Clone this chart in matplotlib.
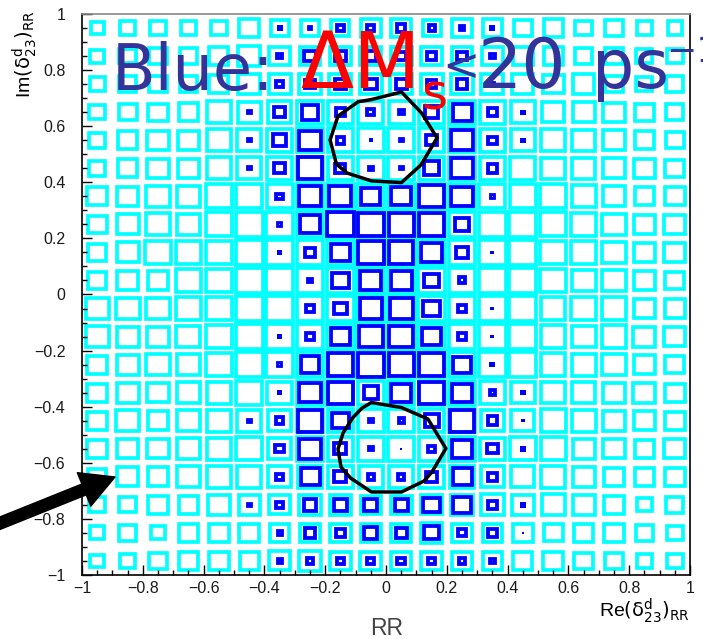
import matplotlib
matplotlib.use("Agg")
import matplotlib.pyplot as plt
from matplotlib.patches import Rectangle, Polygon
from matplotlib.ticker import MultipleLocator, FuncFormatter
import numpy as np

# 20 x 20 bins on [-1, 1] x [-1, 1]
edges = np.linspace(-1, 1, 21)

# box sizes in % of the bin, rows from top (Im = +0.95) to bottom (Im = -0.95)
cyan_size = [
    [55, 60, 66, 60, 66, 77, 71, 71, 71, 77, 77, 71, 75, 77, 71, 75, 66, 69, 62, 60],
    [60, 66, 70, 70, 75, 85, 80, 80, 80, 80, 80, 80, 80, 80, 78, 75, 70, 69, 65, 66],
    [62, 70, 70, 70, 75, 85, 85, 85, 85, 85, 85, 85, 85, 85, 82, 80, 82, 70, 65, 68],
    [64, 71, 75, 77, 93, 88, 90, 95, 95, 95, 95, 95, 95, 95, 93, 85, 85, 82, 75, 68],
    [66, 77, 82, 82, 93, 90, 95, 97, 97, 97, 97, 97, 97, 95, 93, 90, 88, 85, 77, 71],
    [66, 77, 82, 82, 93, 93, 95, 97, 97, 97, 97, 97, 97, 95, 95, 90, 88, 85, 80, 75],
    [77, 82, 88, 86, 98, 98, 98, 100, 100, 100, 100, 100, 100, 98, 98, 98, 91, 85, 77, 77],
    [75, 85, 91, 88, 98, 100, 100, 100, 100, 100, 100, 100, 100, 100, 100, 98, 94, 88, 80, 82],
    [71, 85, 96, 94, 98, 100, 100, 100, 100, 100, 100, 100, 100, 100, 100, 98, 94, 91, 82, 82],
    [71, 82, 80, 94, 98, 100, 100, 100, 100, 100, 100, 100, 100, 100, 100, 98, 91, 91, 80, 74],
    [88, 91, 91, 94, 97, 100, 100, 100, 100, 100, 100, 100, 100, 100, 100, 93, 96, 94, 80, 79],
    [88, 85, 85, 91, 97, 100, 100, 100, 100, 100, 100, 100, 100, 100, 100, 93, 91, 94, 85, 82],
    [78, 85, 88, 88, 97, 100, 100, 100, 100, 100, 100, 100, 100, 100, 100, 93, 91, 88, 82, 74],
    [78, 85, 82, 88, 91, 98, 92, 98, 98, 98, 98, 98, 98, 95, 90, 90, 88, 85, 85, 77],
    [78, 88, 80, 88, 93, 91, 88, 97, 97, 97, 97, 97, 97, 88, 88, 95, 91, 85, 82, 77],
    [78, 82, 82, 88, 91, 96, 88, 97, 97, 97, 97, 97, 97, 93, 96, 95, 85, 82, 77, 82],
    [71, 82, 80, 88, 93, 91, 88, 92, 92, 92, 92, 92, 92, 88, 88, 91, 85, 77, 77, 77],
    [66, 66, 75, 77, 86, 82, 81, 82, 82, 77, 80, 81, 85, 88, 85, 88, 85, 77, 60, 68],
    [60, 69, 60, 77, 79, 77, 77, 80, 80, 77, 77, 82, 80, 77, 77, 74, 75, 77, 69, 63],
    [58, 60, 71, 75, 76, 75, 81, 82, 80, 80, 77, 80, 80, 77, 75, 77, 73, 71, 63, 63],
]

blue_size = [
    [0, 0, 0, 0, 0, 0, 20, 22, 33, 35, 40, 32, 28, 20, 0, 0, 0, 0, 0, 0],
    [0, 0, 0, 0, 0, 0, 28, 50, 50, 48, 45, 40, 44, 27, 0, 0, 0, 0, 0, 0],
    [0, 0, 0, 0, 0, 0, 33, 44, 50, 50, 50, 44, 48, 22, 0, 0, 0, 0, 0, 0],
    [0, 0, 0, 0, 0, 22, 47, 66, 44, 35, 30, 55, 75, 42, 18, 0, 0, 0, 0, 0],
    [0, 0, 0, 0, 0, 22, 55, 82, 38, 13, 22, 48, 85, 40, 18, 0, 0, 0, 0, 0],
    [0, 0, 0, 0, 0, 22, 48, 92, 45, 26, 22, 62, 85, 44, 0, 0, 0, 0, 0, 0],
    [0, 0, 0, 0, 0, 0, 33, 85, 85, 75, 77, 93, 82, 25, 0, 0, 0, 0, 0, 0],
    [0, 0, 0, 0, 0, 0, 22, 77, 100, 98, 95, 96, 58, 0, 0, 0, 0, 0, 0, 0],
    [0, 0, 0, 0, 0, 0, 19, 44, 73, 97, 93, 80, 50, 13, 0, 0, 0, 0, 0, 0],
    [0, 0, 0, 0, 0, 0, 0, 27, 66, 82, 82, 63, 35, 0, 0, 0, 0, 0, 0, 0],
    [0, 0, 0, 0, 0, 0, 0, 40, 54, 86, 88, 66, 36, 13, 0, 0, 0, 0, 0, 0],
    [0, 0, 0, 0, 0, 0, 19, 40, 73, 90, 90, 74, 40, 13, 0, 0, 0, 0, 0, 0],
    [0, 0, 0, 0, 0, 0, 22, 73, 97, 100, 95, 95, 70, 20, 0, 0, 0, 0, 0, 0],
    [0, 0, 0, 0, 0, 0, 19, 82, 93, 60, 77, 93, 77, 30, 18, 0, 0, 0, 0, 0],
    [0, 0, 0, 0, 0, 22, 37, 93, 66, 26, 30, 58, 93, 44, 12, 0, 0, 0, 0, 0],
    [0, 0, 0, 0, 0, 0, 40, 85, 52, 24, 8, 33, 77, 47, 20, 0, 0, 0, 0, 0],
    [0, 0, 0, 0, 0, 0, 37, 75, 52, 33, 33, 50, 75, 44, 0, 0, 0, 0, 0, 0],
    [0, 0, 0, 0, 0, 22, 37, 55, 55, 55, 55, 66, 70, 44, 20, 0, 0, 0, 0, 0],
    [0, 0, 0, 0, 0, 0, 25, 47, 44, 55, 50, 60, 38, 40, 5, 0, 0, 0, 0, 0],
    [0, 0, 0, 0, 0, 0, 25, 35, 33, 36, 38, 36, 33, 30, 0, 0, 0, 0, 0, 0],
]

# hand-drawn black contours
top_x = [0.051, 0.117, 0.168, 0.115, 0.051, -0.048, -0.128, -0.163, -0.184, -0.158, -0.092, -0.048]
top_y = [0.722, 0.647, 0.558, 0.462, 0.399, 0.405, 0.433, 0.465, 0.551, 0.636, 0.687, 0.695]
bot_x = [-0.048, 0.051, 0.138, 0.197, 0.151, 0.125, 0.051, -0.048, -0.117, -0.148, -0.158, -0.141, -0.109, -0.079]
bot_y = [-0.385, -0.403, -0.444, -0.549, -0.633, -0.665, -0.704, -0.704, -0.654, -0.615, -0.551, -0.493, -0.439, -0.405]

W, H = 703, 639
fig = plt.figure(figsize=(W / 100, H / 100), dpi=100)
ax_l, ax_b, ax_w, ax_h = 82, 64, 608, 561
ax = fig.add_axes([ax_l / W, ax_b / H, ax_w / W, ax_h / H])
ax.set_xlim(-1, 1)
ax.set_ylim(-1, 1)

px_x = ax_w / 2.0   # pixels per data unit
px_y = ax_h / 2.0
xc = (edges[:-1] + edges[1:]) / 2
yc = xc[::-1]
dx = edges[1] - edges[0]


def box(x, y, frac, color, lw_px):
    if frac <= 0:
        return
    w = frac / 100 * dx
    h = frac / 100 * dx
    lx = lw_px / px_x
    ly = lw_px / px_y
    if w <= 1.7 * lx:
        ax.add_patch(Rectangle((x - w / 2, y - h / 2), w, h, fc=color, ec="none"))
    else:
        ax.add_patch(Rectangle((x - (w - lx) / 2, y - (h - ly) / 2), w - lx, h - ly,
                               fill=False, ec=color, lw=lw_px * 0.72, joinstyle="miter"))


for j in range(20):
    for i in range(20):
        box(xc[i], yc[j], cyan_size[j][i], "#00ffff", 3.7)
for j in range(20):
    for i in range(20):
        box(xc[i], yc[j], blue_size[j][i], "#0000ff", 3.8)

for cx, cy in [(top_x, top_y), (bot_x, bot_y)]:
    ax.add_patch(Polygon(np.column_stack([cx, cy]), closed=True, fill=False,
                         ec="black", lw=2.5, joinstyle="round"))

# axes cosmetics (ROOT look)
fmt = FuncFormatter(lambda v, p: ("%g" % round(v, 2)).replace("-", "\u2212"))
for a in (ax.xaxis, ax.yaxis):
    a.set_major_locator(MultipleLocator(0.2))
    a.set_minor_locator(MultipleLocator(0.05))
    a.set_major_formatter(fmt)
ax.tick_params(which="both", direction="in", top=False, right=False, colors="black",
               labelcolor="#1a1a1a", labelsize=11.5)
ax.tick_params(which="major", length=7.5, width=1.0)
ax.tick_params(which="minor", length=3.8, width=1.0)
ax.tick_params(axis="y", pad=12)
ax.tick_params(axis="x", pad=4)
for lab in ax.get_xticklabels() + ax.get_yticklabels():
    lab.set_family("Liberation Sans")
ax.spines["top"].set_color("#888888")
for s in ax.spines.values():
    s.set_linewidth(1.2)

fig.text(25 / W, 1 - 10 / H, r"Im$(\mathrm{\delta}^{\mathrm{d}}_{23})_{\mathrm{RR}}$", rotation=90,
         ha="center", va="top", fontsize=14, family="Liberation Sans")
fig.text(690 / W, 1 - 611 / H, r"Re$(\mathrm{\delta}^{\mathrm{d}}_{23})_{\mathrm{RR}}$",
         ha="right", va="center", fontsize=14, family="Liberation Sans")
fig.text(370 / W, 1 - 635 / H, "RR", ha="left", va="baseline", fontsize=16.5,
         color="#444444", family="Liberation Sans")

# overlay annotation
navy = "#333399"
red = "#ff0000"
fig.text(112 / W, 1 - 90 / H, "Blue:", color=navy, fontsize=46, va="baseline")
fig.text(300 / W, 1 - 88 / H, "\u0394M", color=red, fontsize=56, va="baseline")
fig.text(421 / W, 1 - 109 / H, "s", color=red, fontsize=36, va="baseline")
fig.text(442 / W, 1 - 80 / H, "<", color=navy, fontsize=32, va="baseline")
fig.text(478 / W, 1 - 88 / H, "20", color=navy, fontsize=50, va="baseline")
fig.text(592 / W, 1 - 88 / H, "ps", color=navy, fontsize=48, va="baseline")
fig.text(666 / W, 1 - 62 / H, "\u22121", color=navy, fontsize=26, va="baseline")

ax.annotate("", xy=(115, H - 477), xytext=(-12, H - 528),
            xycoords="figure pixels", textcoords="figure pixels",
            arrowprops=dict(arrowstyle="simple,head_length=1.2,head_width=1.3,tail_width=0.42",
                            color="black", mutation_scale=20, shrinkA=0, shrinkB=0),
            annotation_clip=False)

fig.savefig("out.png", dpi=100)
